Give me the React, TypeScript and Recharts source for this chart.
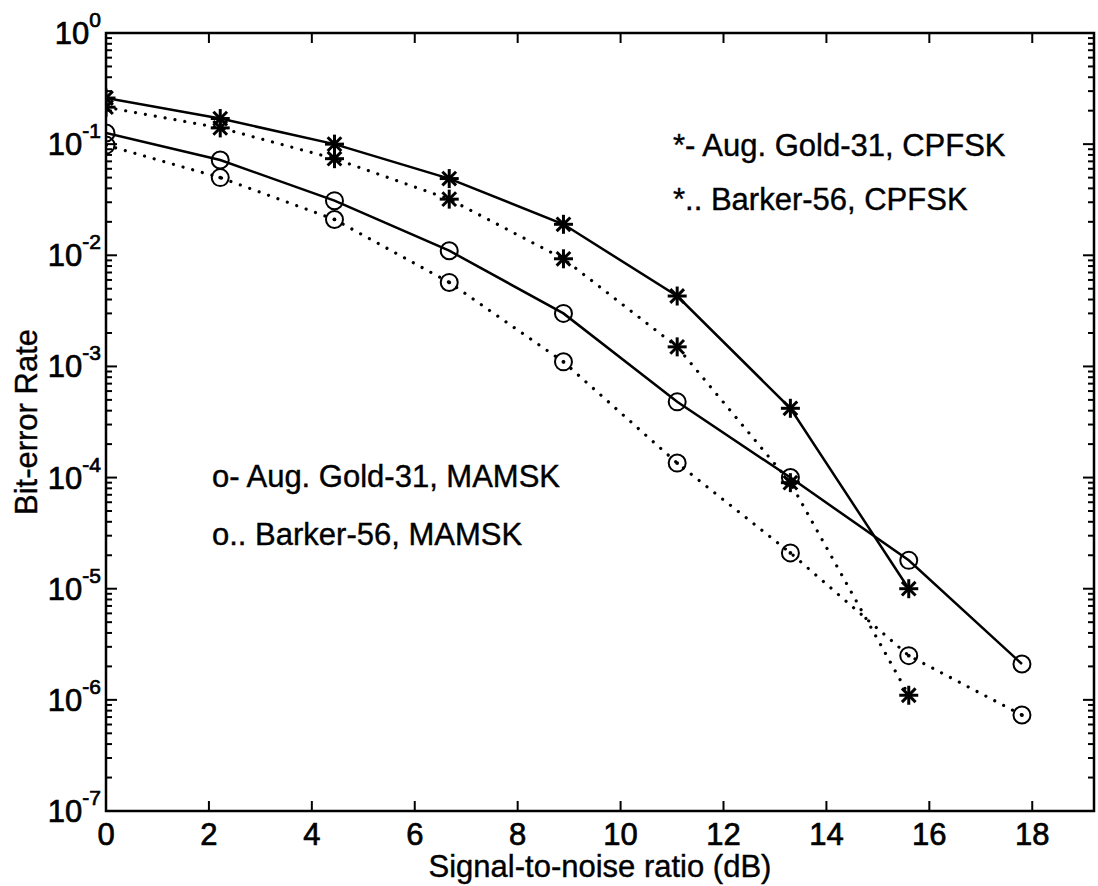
import { LineChart, Line, XAxis, YAxis, ReferenceArea } from "recharts";

// SNR (dB) at each measured point
const snr = [0, 2.22, 4.44, 6.67, 8.89, 11.1, 13.3, 15.6, 17.8];

// bit-error rates per scheme
const goldCpfsk = [0.26, 0.17, 0.1, 0.049, 0.019, 0.0043, 4.2e-4, 1.0e-5, null];
const barkerCpfsk = [0.215, 0.14, 0.074, 0.032, 0.0093, 0.0015, 9e-5, 1.1e-6, null];
const goldMamsk = [0.126, 0.072, 0.031, 0.011, 0.003, 4.8e-4, 1.0e-4, 1.8e-5, 2.1e-6];
const barkerMamsk = [0.098, 0.05, 0.021, 0.0057, 0.0011, 1.35e-4, 2.1e-5, 2.5e-6, 7.3e-7];

const xTicks = [0, 2, 4, 6, 8, 10, 12, 14, 16, 18];
const decadeExponents = [-7, -6, -5, -4, -3, -2, -1, 0];

const X_MAX = 19.2;
const PLOT_W = 988;
const PLOT_H = 778;

const data = snr.map((x, i) => ({
  snr: x,
  goldCpfsk: goldCpfsk[i],
  barkerCpfsk: barkerCpfsk[i],
  goldMamsk: goldMamsk[i],
  barkerMamsk: barkerMamsk[i],
}));

// majors at each decade plus 2..9 minors inside
const yTicks: number[] = [];
decadeExponents.forEach((e) => {
  yTicks.push(Math.pow(10, e));
  if (e < 0) for (let m = 2; m <= 9; m++) yTicks.push(m * Math.pow(10, e));
});

const heavy = { stroke: "#000", strokeWidth: 0.7 };

const XTick = ({ x, y, payload }: any) => (
  <g>
    <line x1={x} y1={y} x2={x} y2={y - 10} stroke="#000" strokeWidth={2} />
    <line x1={x} y1={y - PLOT_H} x2={x} y2={y - PLOT_H + 10} stroke="#000" strokeWidth={2} />
    <text x={x} y={y + 23} textAnchor="middle" dominantBaseline="central" fontSize={31} fill="#000" {...heavy}>
      {payload.value}
    </text>
  </g>
);

const YTick = ({ x, y, payload }: any) => {
  const v = payload.value;
  const exp = Math.round(Math.log10(v));
  const major = Math.abs(Math.log10(v) - exp) < 1e-6;
  const len = major ? 11 : 6;
  return (
    <g>
      <line x1={x} y1={y} x2={x + len} y2={y} stroke="#000" strokeWidth={2} />
      <line x1={x + PLOT_W} y1={y} x2={x + PLOT_W - len} y2={y} stroke="#000" strokeWidth={2} />
      {major && (
        <text x={x - 5} y={y} textAnchor="end" dominantBaseline="central" fontSize={31} fill="#000" {...heavy}>
          <tspan>10</tspan>
          <tspan dy={-14} fontSize={21}>
            {exp === 0 ? "0" : `-${-exp}`}
          </tspan>
        </text>
      )}
    </g>
  );
};

const Star = ({ cx, cy }: any) => {
  if (cx == null || cy == null) return <g />;
  const r = 9.5;
  const d = r * 0.72;
  return (
    <g stroke="#000" strokeWidth={3}>
      <line x1={cx - r} y1={cy} x2={cx + r} y2={cy} />
      <line x1={cx} y1={cy - r} x2={cx} y2={cy + r} />
      <line x1={cx - d} y1={cy - d} x2={cx + d} y2={cy + d} />
      <line x1={cx - d} y1={cy + d} x2={cx + d} y2={cy - d} />
    </g>
  );
};

const Ring = ({ cx, cy }: any) => {
  if (cx == null || cy == null) return <g />;
  return <circle cx={cx} cy={cy} r={8.5} fill="none" stroke="#000" strokeWidth={2} />;
};

const DottedRing = ({ cx, cy }: any) => {
  if (cx == null || cy == null) return <g />;
  return (
    <g>
      <circle cx={cx} cy={cy} r={8.5} fill="none" stroke="#000" strokeWidth={2} />
      <circle cx={cx} cy={cy} r={1.9} fill="#000" />
    </g>
  );
};

const XTitle = ({ viewBox }: any) => (
  <text
    x={viewBox.x + viewBox.width / 2}
    y={viewBox.y + 55}
    textAnchor="middle"
    dominantBaseline="central"
    fontSize={31}
    fill="#000"
    stroke="#000"
    strokeWidth={0.4}
  >
    Signal-to-noise ratio (dB)
  </text>
);

const YTitle = ({ viewBox }: any) => {
  const cx = 26;
  const cy = viewBox.y + viewBox.height / 2;
  return (
    <text
      x={cx}
      y={cy}
      transform={`rotate(-90 ${cx} ${cy})`}
      textAnchor="middle"
      dominantBaseline="central"
      fontSize={31}
      fill="#000"
      stroke="#000"
      strokeWidth={0.4}
    >
      Bit-error Rate
    </text>
  );
};

const legendStyle = {
  position: "absolute" as const,
  fontSize: 31,
  lineHeight: "32px",
  whiteSpace: "nowrap" as const,
  color: "#000",
  WebkitTextStroke: "0.4px #000",
};

export default function App() {
  return (
    <div
      style={{
        position: "absolute",
        left: 0,
        top: 0,
        width: 1098,
        height: 886,
        background: "#fff",
        fontFamily: '"Liberation Sans", Arial, Helvetica, sans-serif',
      }}
    >
      <LineChart width={1098} height={886} data={data} margin={{ top: 33, right: 4, left: 0, bottom: 0 }}>
        <XAxis
          dataKey="snr"
          type="number"
          domain={[0, X_MAX]}
          ticks={xTicks}
          interval={0}
          tick={<XTick />}
          tickSize={0}
          tickMargin={0}
          tickLine={false}
          axisLine={false}
          height={75}
          allowDataOverflow
          label={<XTitle />}
        />
        <YAxis
          type="number"
          scale="log"
          domain={[1e-7, 1]}
          ticks={yTicks}
          interval={0}
          tick={<YTick />}
          tickSize={0}
          tickMargin={0}
          tickLine={false}
          axisLine={false}
          width={106}
          allowDataOverflow
          label={<YTitle />}
        />
        <ReferenceArea x1={0} x2={X_MAX} y1={1e-7} y2={1} fill="none" stroke="#000" strokeWidth={2.5} />
        <Line
          dataKey="goldCpfsk"
          type="linear"
          stroke="#000"
          strokeWidth={2.5}
          dot={<Star />}
          isAnimationActive={false}
        />
        <Line
          dataKey="barkerCpfsk"
          type="linear"
          stroke="#000"
          strokeWidth={3.2}
          strokeDasharray="0.01 10"
          strokeLinecap="round"
          dot={<Star />}
          isAnimationActive={false}
        />
        <Line
          dataKey="goldMamsk"
          type="linear"
          stroke="#000"
          strokeWidth={2.5}
          dot={<Ring />}
          isAnimationActive={false}
        />
        <Line
          dataKey="barkerMamsk"
          type="linear"
          stroke="#000"
          strokeWidth={3.2}
          strokeDasharray="0.01 10"
          strokeLinecap="round"
          dot={<DottedRing />}
          isAnimationActive={false}
        />
      </LineChart>
      <div style={{ ...legendStyle, left: 673, top: 130 }}>*- Aug. Gold-31, CPFSK</div>
      <div style={{ ...legendStyle, left: 673, top: 184 }}>*.. Barker-56, CPFSK</div>
      <div style={{ ...legendStyle, left: 212, top: 461 }}>o- Aug. Gold-31, MAMSK</div>
      <div style={{ ...legendStyle, left: 212, top: 519 }}>o.. Barker-56, MAMSK</div>
    </div>
  );
}
